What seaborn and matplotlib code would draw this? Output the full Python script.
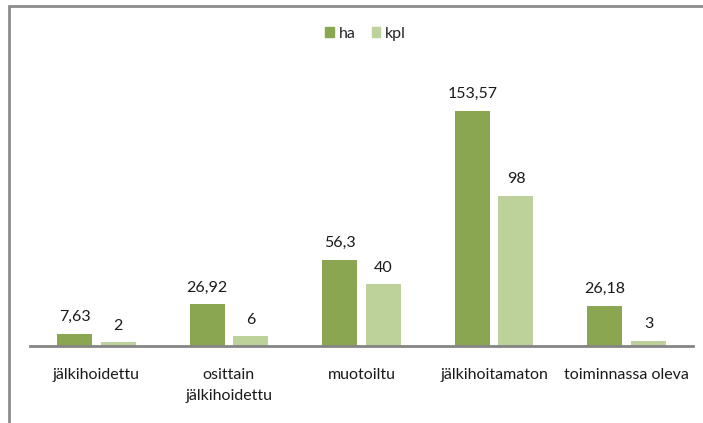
import matplotlib
matplotlib.use("Agg")
import matplotlib.pyplot as plt
import seaborn as sns
import pandas as pd
from matplotlib.patches import Rectangle

# ---------------- Data ----------------
categories = ["jälkihoidettu", "osittain\njälkihoidettu", "muotoiltu",
              "jälkihoitamaton", "toiminnassa oleva"]
ha = [7.63, 26.92, 56.3, 153.57, 26.18]
kpl = [2, 6, 40, 98, 3]
series = ["ha", "kpl"]
colors = ["#8BA650", "#BCD29A"]

df = pd.DataFrame({
    "kategoria": categories * 2,
    "arvo": ha + kpl,
    "sarja": ["ha"] * len(ha) + ["kpl"] * len(kpl),
})

sns.set_style("white")
plt.rcParams["font.family"] = ["Lato", "DejaVu Sans"]
fs = 11.5

fig = plt.figure(figsize=(7.03, 4.23), dpi=100)
ax = fig.add_axes([0.0427, 0.1832, 0.9431, 0.65])

sns.barplot(data=df, x="kategoria", y="arvo", hue="sarja",
            palette=colors, width=0.66, gap=0.2, ax=ax,
            saturation=1, legend=False, linewidth=0)

ax.set_ylim(0, 180)
ax.set_xlim(-0.5, len(categories) - 0.5)

# value labels with comma decimals
for container, vals in zip(ax.containers, [ha, kpl]):
    labels = [str(v).replace(".", ",") for v in vals]
    ax.bar_label(container, labels=labels, padding=7, fontsize=fs, color="#1a1a1a")

# axes styling
for side in ["top", "right", "left"]:
    ax.spines[side].set_visible(False)
ax.spines["bottom"].set_color("#858585")
ax.spines["bottom"].set_linewidth(2)
ax.set_yticks([])
ax.set_xlabel("")
ax.set_ylabel("")
ax.tick_params(axis="x", length=0, pad=16, labelsize=fs, colors="#1a1a1a")
for lbl in ax.get_xticklabels():
    lbl.set_linespacing(1.65)

# legend
handles = [Rectangle((0, 0), 1, 1, color=c) for c in colors]
fig.legend(handles, series, loc="center", bbox_to_anchor=(0.52, 0.92),
           ncol=2, frameon=False, fontsize=fs, handlelength=0.55,
           handleheight=0.55, handletextpad=0.3, columnspacing=1.0)

# chart border (top and left visible)
fig.add_artist(Rectangle((0.0135, -0.05), 1.05, 1.036, transform=fig.transFigure,
                         fill=False, edgecolor="#8c8c8c", linewidth=2))

fig.savefig("out.png", dpi=100)
